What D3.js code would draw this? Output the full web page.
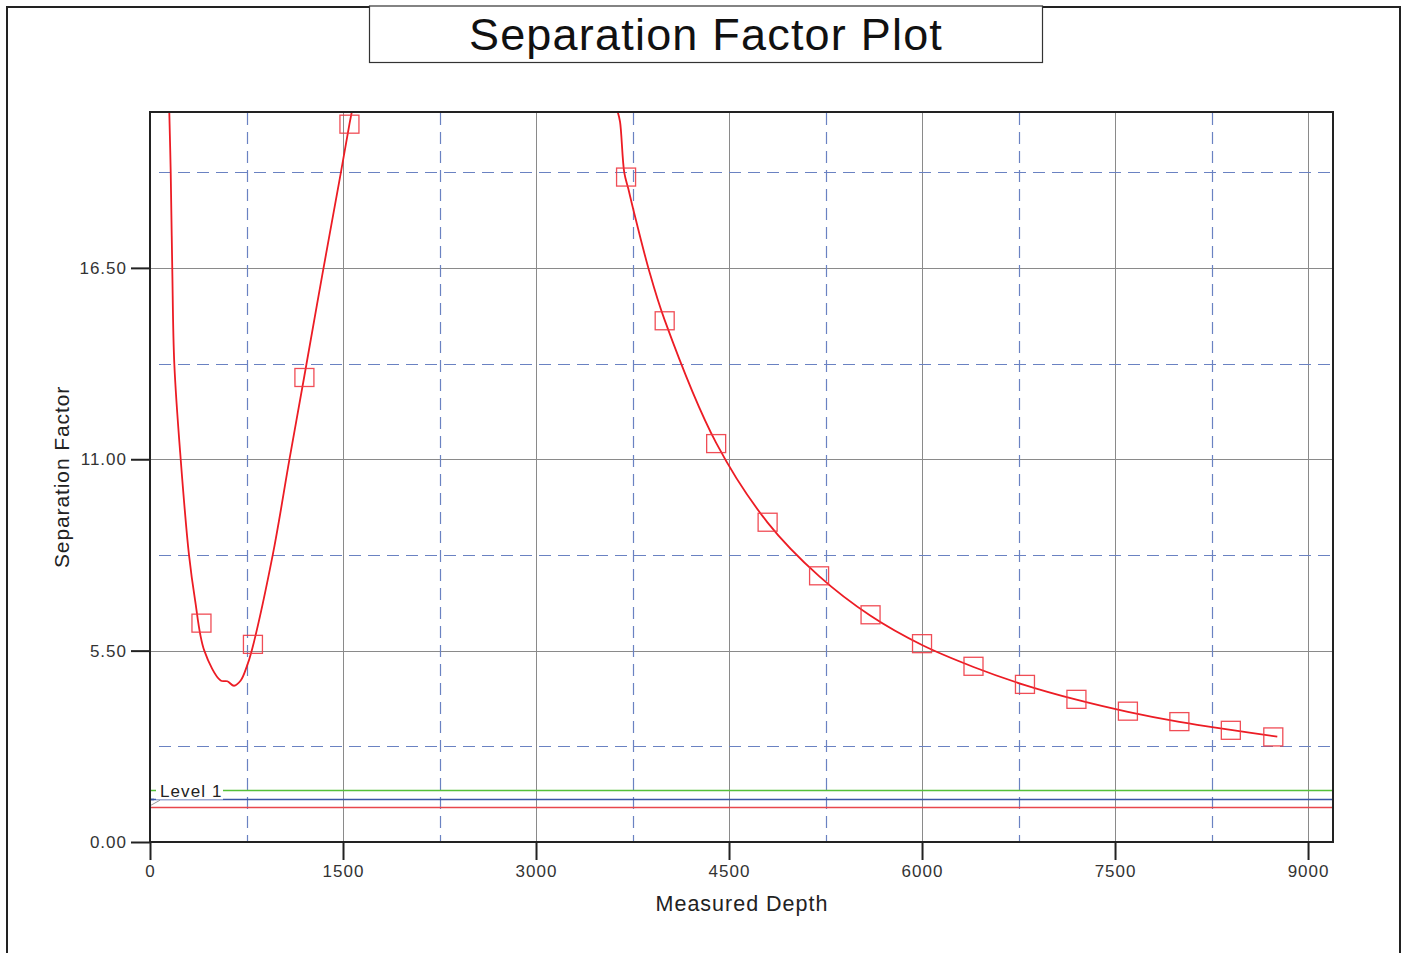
<!DOCTYPE html>
<html>
<head>
<meta charset="utf-8">
<script src="https://cdn.jsdelivr.net/npm/d3@7"></script>
<style>
  html, body { margin: 0; padding: 0; background: #fff; }
  svg { display: block; font-family: "Liberation Sans", Arial, Helvetica, sans-serif; }
</style>
</head>
<body>
<svg id="chart" width="1405" height="953"></svg>
<script>
// ---------- data ----------
const titleText = "Separation Factor Plot";
const xTitle = "Measured Depth";
const yTitle = "Separation Factor";

const xTickValues = [0, 1500, 3000, 4500, 6000, 7500, 9000];
const xMinorValues = [750, 2250, 3750, 5250, 6750, 8250];
const yTickValues = [0, 5.5, 11, 16.5];
const yMinorValues = [2.75, 8.25, 13.75, 19.25];

const leftCurveMD = [150, 161, 173, 189, 239, 303, 350, 422, 549, 601, 653, 705, 752, 790, 954, 1083, 1200, 1339, 1484, 1550, 1580];
const leftCurveSF = [20.98, 19.24, 16.50, 13.74, 10.98, 8.25, 6.96, 5.50, 4.64, 4.62, 4.49, 4.64, 5.04, 5.49, 8.25, 10.98, 13.40, 16.30, 19.25, 20.63, 21.2];

const rightCurveMD = [3635, 3653, 3686, 3717, 3756, 3873, 4000, 4400, 4800, 5200, 5600, 6000, 6400, 6800, 7200, 7600, 8000, 8400, 8761];
const rightCurveSF = [20.98, 20.70, 19.24, 18.78, 18.18, 16.50, 15.00, 11.47, 9.18, 7.64, 6.50, 5.66, 5.03, 4.51, 4.09, 3.74, 3.45, 3.22, 3.03];

const markerMD = [400, 800, 1200, 1550, 3700, 4000, 4400, 4800, 5200, 5600, 6000, 6400, 6800, 7200, 7600, 8000, 8400, 8730];
const markerSF = [6.29, 5.68, 13.35, 20.63, 19.11, 14.98, 11.45, 9.19, 7.65, 6.53, 5.70, 5.05, 4.53, 4.10, 3.76, 3.46, 3.21, 3.02];

const levelNames = ["Level 1", "", ""];
const levelValues = [1.5, 1.25, 1.0];
const levelColors = ["#55c03a", "#3a56a6", "#e8474c"];

// ---------- layout ----------
const svg = d3.select("#chart");
const L = 150, R = 1333, T = 112, B = 842;
const x = d3.scaleLinear().domain([0, 9194]).range([L, R]);
const y = d3.scaleLinear().domain([0, 20.98]).range([B, T]);
const px = v => Math.round(v) + 0.5;

// outer frame
svg.append("rect").attr("x", 7).attr("y", 7).attr("width", 1393).attr("height", 960)
  .attr("fill", "none").attr("stroke", "#222").attr("stroke-width", 2);

// title box
svg.append("rect").attr("x", 369.5).attr("y", 6).attr("width", 673).attr("height", 56.5)
  .attr("fill", "#fff").attr("stroke", "#333").attr("stroke-width", 1.2);
svg.append("text").attr("x", 706).attr("y", 50).attr("text-anchor", "middle")
  .attr("font-size", 45).attr("letter-spacing", 1.2).attr("fill", "#111").text(titleText);

const defs = svg.append("defs");
defs.append("clipPath").attr("id", "plotclip").append("rect")
  .attr("x", L).attr("y", T).attr("width", R - L).attr("height", B - T);

const g = svg.append("g");

// major grid
g.selectAll(".vmaj").data(xTickValues.filter(d => d > 0)).join("line")
  .attr("x1", d => px(x(d))).attr("x2", d => px(x(d)))
  .attr("y1", T).attr("y2", B).attr("stroke", "#8a8a8a").attr("stroke-width", 1);
g.selectAll(".hmaj").data(yTickValues.filter(d => d > 0)).join("line")
  .attr("x1", L).attr("x2", R)
  .attr("y1", d => px(y(d))).attr("y2", d => px(y(d)))
  .attr("stroke", "#8a8a8a").attr("stroke-width", 1);

// minor dashed grid
g.selectAll(".vmin").data(xMinorValues).join("line")
  .attr("x1", d => px(x(d))).attr("x2", d => px(x(d)))
  .attr("y1", T + 1).attr("y2", B).attr("stroke", "#6a82c2").attr("stroke-width", 1.2)
  .attr("stroke-dasharray", "12,7");
g.selectAll(".hmin").data(yMinorValues).join("line")
  .attr("x1", L + 9).attr("x2", R)
  .attr("y1", d => px(y(d))).attr("y2", d => px(y(d)))
  .attr("stroke", "#6a82c2").attr("stroke-width", 1.2)
  .attr("stroke-dasharray", "12,7");

// level lines
levelValues.forEach((v, i) => {
  g.append("line").attr("x1", L).attr("x2", R)
    .attr("y1", px(y(v))).attr("y2", px(y(v)))
    .attr("stroke", levelColors[i]).attr("stroke-width", 1.6);
});
// label box for Level 1
g.append("rect").attr("x", 156).attr("y", px(y(levelValues[0])) - 9).attr("width", 67).attr("height", 18)
  .attr("fill", "#fff");
g.append("text").attr("x", 160).attr("y", px(y(levelValues[0])) + 6)
  .attr("font-size", 17).attr("letter-spacing", 1.1).attr("fill", "#222").text(levelNames[0]);
g.append("line").attr("x1", L + 1).attr("x2", L + 10).attr("y1", y(levelValues[2]) - 2).attr("y2", y(levelValues[2]) - 7)
  .attr("stroke", "#999").attr("stroke-width", 1);
g.append("line").attr("x1", L).attr("x2", L + 4).attr("y1", px(y(levelValues[1]))).attr("y2", px(y(levelValues[1])))
  .attr("stroke", levelColors[1]).attr("stroke-width", 1.6);

// curves
const line = d3.line().x(d => x(d[0])).y(d => y(d[1])).curve(d3.curveCatmullRom.alpha(0.5));
const cg = svg.append("g").attr("clip-path", "url(#plotclip)");
cg.append("path").datum(leftCurveMD.map((m, i) => [m, leftCurveSF[i]]))
  .attr("d", line).attr("fill", "none").attr("stroke", "#ec1c24").attr("stroke-width", 1.8);
cg.append("path").datum(rightCurveMD.map((m, i) => [m, rightCurveSF[i]]))
  .attr("d", line).attr("fill", "none").attr("stroke", "#ec1c24").attr("stroke-width", 1.8);

// markers
const mw = 19, mh = 18;
svg.append("g").selectAll("rect").data(markerMD.map((m, i) => [m, markerSF[i]])).join("rect")
  .attr("x", d => x(d[0]) - mw / 2).attr("y", d => y(d[1]) - mh / 2)
  .attr("width", mw).attr("height", mh)
  .attr("fill", "none").attr("stroke", "#ee3a44").attr("stroke-width", 1.3).attr("stroke-opacity", 0.9);

// plot frame
svg.append("rect").attr("x", L).attr("y", T).attr("width", R - L).attr("height", B - T)
  .attr("fill", "none").attr("stroke", "#222").attr("stroke-width", 2);

// axes
const xAxis = d3.axisBottom(x).tickValues(xTickValues).tickFormat(d3.format("d")).tickSize(18).tickPadding(5);
const yAxis = d3.axisLeft(y).tickValues(yTickValues).tickFormat(d3.format(".2f")).tickSize(19).tickPadding(4);
const xg = svg.append("g").attr("transform", `translate(0,${B})`).call(xAxis);
const yg = svg.append("g").attr("transform", `translate(${L},0)`).call(yAxis);
[xg, yg].forEach(a => {
  a.select(".domain").remove();
  a.selectAll(".tick line").attr("stroke", "#222").attr("stroke-width", 2);
  a.selectAll(".tick text").attr("font-size", 17).attr("letter-spacing", 1).attr("fill", "#333")
    .attr("font-family", "Liberation Sans, Arial, sans-serif");
});

// axis titles
svg.append("text").attr("x", 742).attr("y", 911).attr("text-anchor", "middle")
  .attr("font-size", 21.5).attr("letter-spacing", 1).attr("fill", "#222").text(xTitle);
svg.append("text").attr("transform", `translate(69,${(T + B) / 2}) rotate(-90)`).attr("text-anchor", "middle")
  .attr("font-size", 21).attr("letter-spacing", 0.9).attr("fill", "#222").text(yTitle);
</script>
</body>
</html>
